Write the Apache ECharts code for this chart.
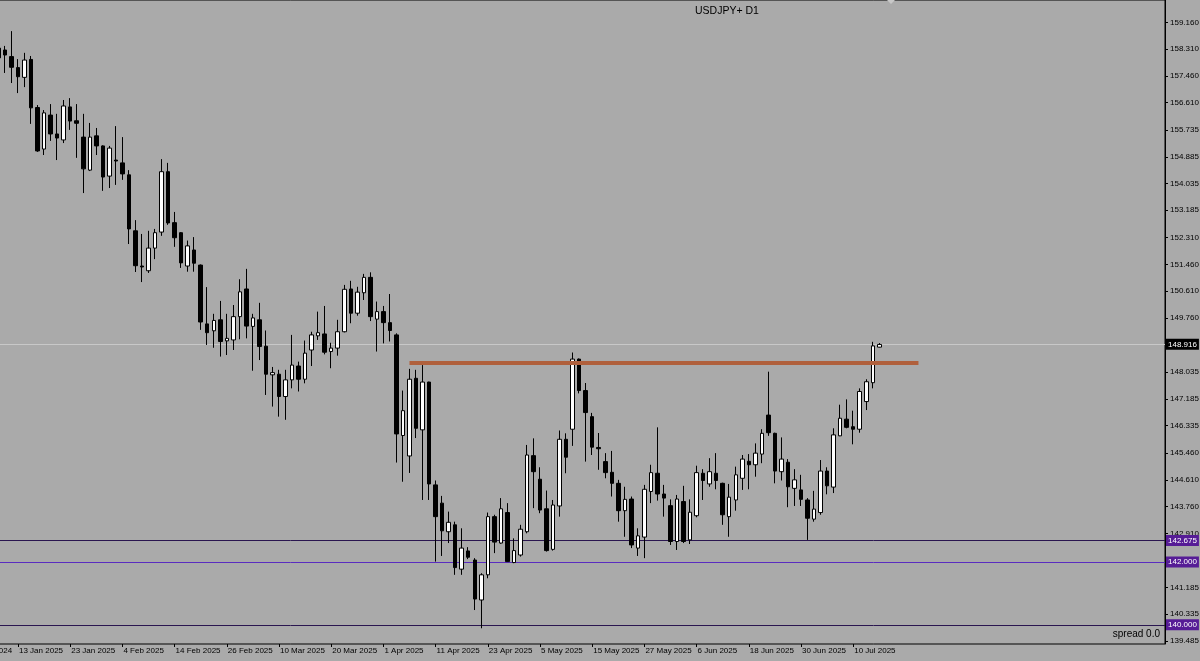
<!DOCTYPE html>
<html><head><meta charset="utf-8">
<script src="https://cdn.jsdelivr.net/npm/echarts@6/dist/echarts.min.js"></script>
<style>html,body{margin:0;padding:0;background:#AAAAAA}#c{width:1200px;height:661px}</style>
</head><body><div id="c"></div>
<script>
// ---------- data ----------
const chartTitle = 'USDJPY+ D1';
const spreadText = 'spread 0.0';
const firstCandleDate = '8 Jan 2025';
// daily candles from 8 Jan 2025 onwards (weekdays)
const opens = [158.34,158.28,158.07,157.72,157.41,157.98,156.45,155.13,156.21,155.61,155.42,156.47,156.03,155.51,154.46,155.55,155.23,154.27,154.78,154.69,
154.31,152.53,151.41,151.26,151.98,152.49,154.41,152.79,152.47,151.41,151.92,151.44,149.57,149.35,149.70,149.03,149.06,149.80,150.68,149.49,
149.70,148.86,147.95,147.97,147.26,147.79,148.23,147.81,148.74,149.19,149.25,148.69,148.80,149.32,150.68,149.91,150.56,151.05,149.72,149.96,
149.61,149.22,146.02,145.37,147.84,146.20,147.72,144.45,143.87,142.96,143.18,141.77,142.35,142.06,140.79,141.59,143.44,142.60,143.57,141.98,
142.22,142.96,145.38,144.63,143.69,142.40,143.78,145.90,146.22,148.45,147.45,146.62,145.64,145.19,144.85,144.50,143.63,144.00,142.44,142.79,
144.24,144.82,144.16,143.79,142.65,143.92,142.70,143.47,144.82,144.48,144.82,144.50,143.44,143.97,144.66,145.20,145.09,145.43,146.67,146.09,
144.87,145.17,144.34,144.29,143.97,143.36,143.57,144.89,144.38,146.01,146.54,146.30,146.22,147.10,147.70,148.83];
const closes = [158.03,158.12,157.73,157.43,157.96,156.44,155.07,156.28,155.61,155.48,156.50,156.02,155.95,154.50,155.51,155.23,154.24,155.16,154.75,154.34,
152.59,151.42,151.38,151.98,152.47,154.41,152.78,152.31,151.51,152.05,151.50,149.63,149.29,149.68,149.01,149.11,149.80,150.59,149.50,149.76,
148.85,147.97,148.02,147.26,147.79,148.26,147.81,148.64,149.22,149.29,148.67,148.80,149.32,150.67,149.91,150.58,151.05,149.80,149.96,149.61,
149.36,146.07,146.81,147.81,146.25,147.72,144.48,143.44,142.99,143.26,141.82,142.44,142.15,140.82,141.59,143.44,142.63,143.69,142.01,142.36,
143.04,145.40,144.87,143.65,142.36,143.81,145.90,145.33,148.45,147.45,146.75,145.65,145.60,144.84,144.50,143.63,143.99,142.54,142.83,144.31,
144.84,144.16,144.03,142.65,144.00,142.65,143.58,144.84,144.59,144.87,144.59,143.50,144.06,144.77,145.27,145.09,145.46,146.09,146.11,144.89,
145.27,144.39,144.61,143.99,143.39,143.68,144.89,144.42,146.04,146.57,146.28,146.22,147.42,147.73,148.87,148.916];
const lows = [157.90,157.55,157.23,156.91,157.10,155.93,155.04,154.94,155.39,154.78,155.32,155.74,154.85,153.73,154.43,154.94,153.80,153.89,153.99,154.15,
152.11,151.22,150.90,151.19,151.63,152.37,152.72,152.02,151.35,151.23,151.23,149.38,148.90,148.81,148.53,148.58,148.74,149.08,149.11,148.08,
148.42,147.31,146.94,146.62,146.52,147.52,147.42,147.68,148.23,149.06,148.60,148.16,148.56,149.30,149.59,149.83,150.33,149.66,148.69,148.95,
149.01,145.16,144.55,144.83,145.94,143.97,143.97,142.01,142.19,142.60,141.59,141.59,142.09,140.47,139.89,141.48,142.28,142.58,142.00,141.96,
142.17,142.91,143.71,143.55,142.33,142.36,143.44,144.82,145.69,147.36,145.19,145.40,144.93,144.66,144.08,143.28,142.80,142.44,142.19,142.12,
143.87,143.95,143.44,142.54,142.38,142.60,142.57,143.42,143.97,144.39,144.31,143.18,142.80,143.63,144.29,144.31,144.71,145.14,146.01,144.50,
144.59,143.74,143.78,143.78,142.70,143.28,143.50,144.15,144.19,146.00,146.25,145.74,146.11,146.83,147.52,148.82];
const highs = [158.47,158.41,158.88,157.99,158.19,158.09,156.53,156.37,156.56,156.25,156.69,156.75,156.56,156.25,155.96,155.80,155.25,155.23,155.86,155.51,
154.46,152.87,152.43,152.53,152.59,154.81,154.69,153.13,152.49,152.22,152.33,151.46,150.74,149.89,150.30,149.89,150.17,150.99,151.32,149.89,
150.24,149.36,148.20,148.11,148.11,149.22,148.37,149.04,149.32,149.96,150.14,148.97,149.70,150.81,150.94,150.75,151.16,151.21,150.28,150.14,
150.52,149.27,147.45,148.14,148.11,148.26,147.73,144.59,144.10,143.60,143.28,143.07,142.47,142.12,141.64,143.57,143.50,144.03,143.87,142.75,
143.18,145.72,145.93,145.01,144.27,143.97,146.18,146.09,148.66,148.47,147.69,146.74,146.10,145.46,145.53,144.61,144.39,144.08,143.07,144.45,
145.09,146.28,144.45,143.99,144.13,144.42,143.99,145.06,144.95,145.30,145.46,144.52,144.48,145.03,145.40,145.43,145.77,146.22,148.05,146.11,
145.96,145.27,144.95,144.77,144.03,144.26,145.24,145.01,146.25,147.00,147.17,146.81,147.52,147.81,149.00,148.96];
const xTickLabels = ['31 Dec 2024','13 Jan 2025','23 Jan 2025','4 Feb 2025','14 Feb 2025','26 Feb 2025','10 Mar 2025','20 Mar 2025','1 Apr 2025',
 '11 Apr 2025','23 Apr 2025','5 May 2025','15 May 2025','27 May 2025','6 Jun 2025','18 Jun 2025','30 Jun 2025','10 Jul 2025'];
const yTickValues = [159.160,158.310,157.460,156.610,155.735,154.885,154.035,153.185,152.310,151.460,150.610,149.760,
 148.035,147.185,146.335,145.460,144.610,143.760,142.910,141.185,140.335,139.485];
const priceLevels = [148.916, 142.675, 142.000, 140.000];
const trendLevel = 148.34;
const trendStart = '7 Apr 2025';
const trendEnd = '24 Jul 2025';
const yMin = 139.39, yMax = 159.87;

// ---------- categories (weekday trading days) ----------
const MONTHS = ['Jan','Feb','Mar','Apr','May','Jun','Jul','Aug','Sep','Oct','Nov','Dec'];
function buildDates(n){
  const out = ['31 Dec 2024'];
  const d = new Date(Date.UTC(2025,0,2));
  while(out.length < n){
    const wd = d.getUTCDay();
    if(wd !== 0 && wd !== 6) out.push(d.getUTCDate()+' '+MONTHS[d.getUTCMonth()]+' '+d.getUTCFullYear());
    d.setUTCDate(d.getUTCDate()+1);
  }
  return out;
}
const dates = buildDates(184);
const off = dates.indexOf(firstCandleDate);
const candleData = dates.map((_, i) => {
  const j = i - off;
  return (j >= 0 && j < opens.length) ? [opens[j], closes[j], lows[j], highs[j]] : '-';
});

const levelStyles = [
  {line:'#C8C8C8', bg:'#000000'},
  {line:'#2A1650', bg:'#561C96'},
  {line:'#5A2CC0', bg:'#561C96'},
  {line:'#2A1650', bg:'#561C96'}
];
const FONT = 'Liberation Sans';

const chart = echarts.init(document.getElementById('c'), null, {renderer:'canvas'});
chart.setOption({
  backgroundColor:'#AAAAAA',
  animation:false,
  title:{text:chartTitle, left:690, top:1, textStyle:{fontFamily:FONT, fontSize:10.5, fontWeight:'normal', color:'#000'}},
  grid:[
    {left:-37.46, width:1200.6, top:0, bottom:17, show:false, containLabel:false, outerBoundsMode:'none'},
    {left:-1, right:35, top:0, bottom:17, show:true, borderColor:'#000', borderWidth:1, backgroundColor:'transparent', containLabel:false, outerBoundsMode:'none'}
  ],
  xAxis:[
    {type:'category', gridIndex:0, data:dates, boundaryGap:true,
     axisLine:{show:false},
     axisTick:{show:true, alignWithLabel:true, length:3, interval:(i,v)=>xTickLabels.includes(v), lineStyle:{color:'#000'}},
     axisLabel:{interval:(i,v)=>xTickLabels.includes(v), align:'left', margin:3, padding:[0,0,0,1], fontSize:8, fontFamily:FONT, color:'#000'},
     splitLine:{show:false}},
    {type:'value', gridIndex:1, min:1, max:2, show:false}
  ],
  yAxis:[
    {type:'value', gridIndex:0, min:yMin, max:yMax, show:false},
    {type:'value', gridIndex:1, min:yMin, max:yMax, position:'right',
     axisLine:{show:true, onZero:false, lineStyle:{color:'#000'}},
     axisTick:{show:true, customValues:yTickValues, length:3, lineStyle:{color:'#000'}},
     axisLabel:{customValues:yTickValues, formatter:v=>v.toFixed(3), fontSize:8, fontFamily:FONT, color:'#000', margin:5},
     splitLine:{show:false}}
  ],
  series:[
    {type:'line', xAxisIndex:1, yAxisIndex:1, data:[], z:1, silent:true,
     markLine:{silent:true, symbol:'none', z:1,
       data: priceLevels.map((v,i)=>({yAxis:v,
         lineStyle:{color:levelStyles[i].line, width:1, type:'solid'},
         label:{show:true, position:'end', distance:1, formatter:()=>v.toFixed(3), color:'#fff',
                backgroundColor:levelStyles[i].bg, padding:[2,2,1,2], fontSize:8, fontFamily:FONT}}))}},
    {type:'candlestick', xAxisIndex:0, yAxisIndex:0, data:candleData, barWidth:4, z:3,
     itemStyle:{color:'#ffffff', color0:'#000000', borderColor:'#000000', borderColor0:'#000000', borderWidth:1},
     markLine:{silent:true, symbol:'none', z:4,
       lineStyle:{color:'#B0603C', width:4, type:'solid'}, label:{show:false},
       data:[[{coord:[trendStart, trendLevel]},{coord:[trendEnd, trendLevel]}]]}}
  ],
  graphic:[
    {type:'text', right:40, bottom:22, style:{text:spreadText, font:'10px "Liberation Sans"', fill:'#000'}},
    {type:'polygon', shape:{points:[[887,0],[895,0],[891,4]]}, style:{fill:'#C8C8C8'}}
  ]
});
</script></body></html>
